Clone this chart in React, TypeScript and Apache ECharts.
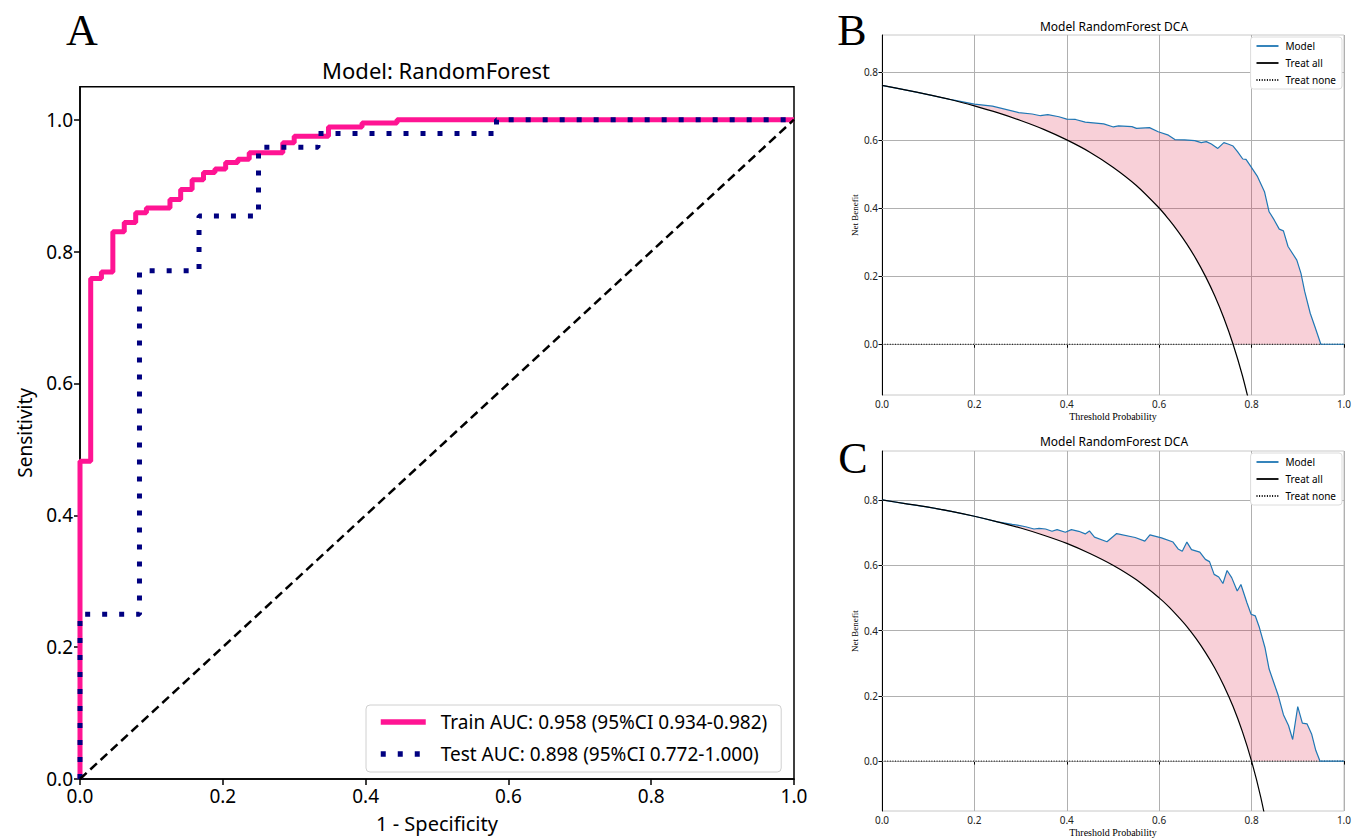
import React, { useEffect, useRef } from "react";
import * as echarts from "echarts";

// ---------- ROC data (panel A) ----------
const TRAIN_LABEL = "Train AUC: 0.958 (95%CI 0.934-0.982)";
const TEST_LABEL = "Test AUC: 0.898 (95%CI 0.772-1.000)";
const TRAIN_FPR = [0, 0, 0.015, 0.030, 0.046, 0.062, 0.078, 0.093, 0.126, 0.141, 0.157, 0.173, 0.189, 0.204, 0.221, 0.237, 0.284, 0.300, 0.348, 0.395, 0.444, 1.0];
const TRAIN_TPR = [0, 0.482, 0.759, 0.769, 0.830, 0.844, 0.859, 0.866, 0.879, 0.894, 0.909, 0.920, 0.925, 0.935, 0.940, 0.950, 0.965, 0.975, 0.989, 0.995, 1.0, 1.0];
const TEST_FPR = [0, 0, 0.0833, 0.1667, 0.25, 0.3333, 0.5833, 1.0];
const TEST_TPR = [0, 0.25, 0.771, 0.854, 0.958, 0.979, 1.0, 1.0];
const CHANCE_X = [0, 1];
const CHANCE_Y = [0, 1];
const ROC_TICKS = [0, 0.2, 0.4, 0.6, 0.8, 1.0];

// ---------- DCA data (panel B) ----------
const B_ALL_X = [0, 0.05, 0.1, 0.15, 0.2, 0.25, 0.3, 0.35, 0.4, 0.45, 0.5, 0.55, 0.6, 0.62, 0.64, 0.66, 0.68, 0.7, 0.72, 0.74, 0.76, 0.78, 0.8];
const B_ALL_Y = [0.76, 0.747, 0.733, 0.718, 0.70, 0.68, 0.657, 0.631, 0.60, 0.564, 0.52, 0.467, 0.40, 0.368, 0.333, 0.294, 0.25, 0.20, 0.143, 0.077, 0.0, -0.091, -0.20];
const B_MODEL_X = [0, 0.05, 0.1, 0.15, 0.2, 0.239, 0.296, 0.325, 0.343, 0.359, 0.383, 0.4, 0.419, 0.44, 0.48, 0.501, 0.512, 0.541, 0.551, 0.579, 0.598, 0.62, 0.634, 0.655, 0.677, 0.691, 0.702, 0.713, 0.727, 0.74, 0.749, 0.76, 0.77, 0.781, 0.788, 0.799, 0.813, 0.828, 0.838, 0.849, 0.86, 0.869, 0.879, 0.898, 0.907, 0.915, 0.927, 0.937, 0.95, 1.0];
const B_MODEL_Y = [0.76, 0.747, 0.733, 0.718, 0.705, 0.699, 0.68, 0.676, 0.671, 0.674, 0.668, 0.661, 0.66, 0.652, 0.647, 0.638, 0.641, 0.639, 0.634, 0.636, 0.624, 0.614, 0.601, 0.6, 0.598, 0.592, 0.595, 0.588, 0.575, 0.592, 0.588, 0.582, 0.565, 0.544, 0.543, 0.521, 0.492, 0.448, 0.389, 0.365, 0.338, 0.333, 0.287, 0.247, 0.208, 0.155, 0.091, 0.052, 0.0, 0.0];

// ---------- DCA data (panel C) ----------
const C_ALL_X = [0, 0.05, 0.1, 0.15, 0.2, 0.25, 0.3, 0.35, 0.4, 0.45, 0.5, 0.55, 0.6, 0.62, 0.64, 0.66, 0.68, 0.7, 0.72, 0.74, 0.76, 0.78, 0.8, 0.82, 0.84];
const C_ALL_Y = [0.8, 0.789, 0.778, 0.765, 0.75, 0.733, 0.714, 0.692, 0.667, 0.636, 0.6, 0.556, 0.5, 0.474, 0.444, 0.412, 0.375, 0.333, 0.286, 0.231, 0.167, 0.091, 0.0, -0.111, -0.25];
const C_MODEL_X = [0, 0.05, 0.1, 0.15, 0.2, 0.25, 0.282, 0.293, 0.311, 0.329, 0.34, 0.354, 0.368, 0.379, 0.397, 0.41, 0.426, 0.44, 0.449, 0.46, 0.487, 0.508, 0.548, 0.569, 0.58, 0.605, 0.63, 0.641, 0.65, 0.66, 0.67, 0.688, 0.7, 0.709, 0.719, 0.729, 0.738, 0.747, 0.757, 0.769, 0.777, 0.79, 0.799, 0.808, 0.817, 0.829, 0.838, 0.858, 0.869, 0.88, 0.889, 0.9, 0.91, 0.92, 0.93, 0.939, 0.948, 1.0];
const C_MODEL_Y = [0.8, 0.789, 0.778, 0.765, 0.75, 0.733, 0.725, 0.723, 0.718, 0.711, 0.713, 0.711, 0.704, 0.709, 0.701, 0.709, 0.704, 0.696, 0.705, 0.686, 0.672, 0.697, 0.685, 0.674, 0.693, 0.684, 0.671, 0.65, 0.643, 0.671, 0.648, 0.64, 0.618, 0.611, 0.572, 0.564, 0.544, 0.584, 0.562, 0.521, 0.541, 0.485, 0.45, 0.445, 0.409, 0.348, 0.282, 0.2, 0.142, 0.109, 0.066, 0.167, 0.116, 0.114, 0.083, 0.033, 0.0, 0.0];

const NONE_X = [0, 1];
const NONE_Y = [0, 0];
const DCA_Y_TICKS = [0, 0.2, 0.4, 0.6, 0.8];

const SANS = "'Noto Sans', 'Open Sans', sans-serif";
const SERIF = "'Liberation Serif', 'DejaVu Serif', serif";

const zip = (xs: number[], ys: number[]) => xs.map((x, i) => [x, ys[i]]);

function fillPolygon(mx: number[], my: number[], ax: number[], ay: number[]) {
  const upper = zip(mx, my);
  const lower = zip(ax, ay).filter((p) => p[1] >= 0).reverse();
  return upper.concat(lower);
}

export default function App() {
  const ref = useRef<HTMLDivElement>(null);
  useEffect(() => {
    if (!ref.current) return;
    const chart = echarts.init(ref.current, null, { renderer: "svg" });

    const polyB = fillPolygon(B_MODEL_X, B_MODEL_Y, B_ALL_X, B_ALL_Y);
    const polyC = fillPolygon(C_MODEL_X, C_MODEL_Y, C_ALL_X, C_ALL_Y);

    const dcaGridBoxes = [
      { left: 882, top: 35, width: 464.5, height: 360 },
      { left: 882, top: 451, width: 464.5, height: 361.5 },
    ];
    const dcaYRange = [
      [-0.149, 0.908],
      [-0.153, 0.95],
    ];

    const fmt1 = (v: number) => v.toFixed(1);

    const xAxes: any[] = [
      {
        gridIndex: 0, type: "value", min: 0, max: 1, interval: 0.2,
        axisLine: { show: true, lineStyle: { color: "#000", width: 1.5 } },
        axisTick: { show: true, inside: false, length: 6, lineStyle: { color: "#000", width: 1.5 } },
        axisLabel: { formatter: fmt1, color: "#000", fontSize: 19, fontFamily: SANS, margin: 7 },
        splitLine: { show: false },
        name: "1 - Specificity", nameLocation: "middle", nameGap: 34,
        nameTextStyle: { color: "#000", fontSize: 20, fontFamily: SANS },
      },
    ];
    const yAxes: any[] = [
      {
        gridIndex: 0, type: "value", min: 0, max: 1.05,
        axisLine: { show: true, lineStyle: { color: "#000", width: 1.5 } },
        axisTick: { show: true, inside: false, length: 6, customValues: ROC_TICKS, lineStyle: { color: "#000", width: 1.5 } },
        axisLabel: { formatter: fmt1, color: "#000", fontSize: 19, fontFamily: SANS, margin: 7, customValues: ROC_TICKS },
        splitLine: { show: false },
        name: "Sensitivity", nameLocation: "middle", nameGap: 46,
        nameTextStyle: { color: "#000", fontSize: 19, fontFamily: SANS },
      },
    ];
    [1, 2].forEach((gi) => {
      xAxes.push({
        gridIndex: gi, type: "value", min: 0, max: 1, interval: 0.2,
        axisLine: { show: true, lineStyle: { color: "#000", width: 1 } },
        axisTick: { show: true, inside: false, length: 3.5, lineStyle: { color: "#000", width: 1 } },
        axisLabel: { formatter: fmt1, color: "#222", fontSize: 10, fontFamily: SANS, margin: 4 },
        splitLine: { show: true, lineStyle: { color: "#b0b0b0", width: 1 } },
        name: "Threshold Probability", nameLocation: "middle", nameGap: 16,
        nameTextStyle: { color: "#000", fontSize: 10, fontFamily: SERIF },
      });
      const r = dcaYRange[gi - 1];
      yAxes.push({
        gridIndex: gi, type: "value", min: r[0], max: r[1],
        axisLine: { show: true, lineStyle: { color: "#000", width: 1 } },
        axisTick: { show: true, inside: false, length: 3.5, customValues: DCA_Y_TICKS, lineStyle: { color: "#000", width: 1 } },
        axisLabel: { formatter: fmt1, color: "#222", fontSize: 10, fontFamily: SANS, margin: 4, customValues: DCA_Y_TICKS },
        splitLine: { show: false },
        name: "Net Benefit", nameLocation: "middle", nameGap: 22,
        nameTextStyle: { color: "#000", fontSize: 9, fontFamily: SERIF },
      });
    });

    const dcaSeries = (gi: number, mx: number[], my: number[], ax: number[], ay: number[], poly: number[][]) => [
      {
        type: "custom", xAxisIndex: gi, yAxisIndex: gi, silent: true, z: 1,
        data: [[0, 0]],
        renderItem: (_p: any, api: any) => ({
          type: "polygon",
          shape: { points: poly.map((pt) => api.coord(pt)) },
          style: { fill: "rgba(220,20,60,0.2)", stroke: "none" },
        }),
      },
      {
        type: "line", name: "Treat none", xAxisIndex: gi, yAxisIndex: gi, z: 2,
        data: zip(NONE_X, NONE_Y), symbol: "none",
        lineStyle: { color: "#000", width: 1, type: [1, 1.6] },
        itemStyle: { color: "#000" },
        markLine: {
          silent: true, symbol: "none", label: { show: false },
          lineStyle: { color: "#b0b0b0", width: 1, type: "solid" },
          data: DCA_Y_TICKS.map((v) => ({ yAxis: v })),
          z: 1,
        },
      },
      {
        type: "line", name: "Model", xAxisIndex: gi, yAxisIndex: gi, z: 3,
        data: zip(mx, my), symbol: "none",
        lineStyle: { color: "#1f77b4", width: 1.2 },
        itemStyle: { color: "#1f77b4" },
      },
      {
        type: "line", name: "Treat all", xAxisIndex: gi, yAxisIndex: gi, z: 4,
        data: zip(ax, ay), symbol: "none", smooth: 0.3,
        lineStyle: { color: "#000", width: 1.2 },
        itemStyle: { color: "#000" },
      },
    ];

    const option: any = {
      animation: false,
      backgroundColor: "#fff",
      grid: [
        { left: 80, top: 86.7, width: 714, height: 695.3, show: true, borderColor: "#000", borderWidth: 1.5, backgroundColor: "transparent" },
        { ...dcaGridBoxes[0], show: true, borderColor: "#c8c8c8", borderWidth: 1 },
        { ...dcaGridBoxes[1], show: true, borderColor: "#c8c8c8", borderWidth: 1 },
      ],
      xAxis: xAxes,
      yAxis: yAxes,
      legend: [
        {
          data: [TRAIN_LABEL, TEST_LABEL], orient: "vertical", left: 366, top: 705,
          itemWidth: 45, itemHeight: 14, itemGap: 12,
          padding: [7, 14, 8, 12],
          borderColor: "#d0d0d0", borderWidth: 1, borderRadius: 4, backgroundColor: "#fff",
          itemStyle: { opacity: 0 },
          lineStyle: { width: 5.5, cap: "butt" },
          textStyle: { color: "#000", fontSize: 19, lineHeight: 20, fontFamily: SANS, padding: [0, 0, 0, 10] },
          selectedMode: false,
        },
        ...[0, 1].map((k) => ({
          data: ["Model", "Treat all", "Treat none"], orient: "vertical",
          right: 1354 - 1342, top: dcaGridBoxes[k].top + 2,
          itemWidth: 22, itemHeight: 8, itemGap: 7,
          padding: [4, 6, 4, 5],
          borderColor: "#dcdcdc", borderWidth: 1, borderRadius: 3, backgroundColor: "#fff",
          itemStyle: { opacity: 0 },
          lineStyle: { width: 1.8 },
          textStyle: { color: "#000", fontSize: 10, fontFamily: SANS, padding: [0, 0, 0, 2] },
          selectedMode: false,
        })),
      ],
      graphic: [
        { type: "text", x: 436, y: 70, style: { text: "Model: RandomForest", fontSize: 22, fontFamily: SANS, fill: "#000", align: "center", verticalAlign: "middle" } },
        { type: "text", x: 1114, y: 26, style: { text: "Model RandomForest DCA", fontSize: 12, fontFamily: SANS, fill: "#000", align: "center", verticalAlign: "middle" } },
        { type: "text", x: 1114, y: 441, style: { text: "Model RandomForest DCA", fontSize: 12, fontFamily: SANS, fill: "#000", align: "center", verticalAlign: "middle" } },
        { type: "text", x: 82, y: 30, style: { text: "A", fontSize: 44, fontFamily: SERIF, fill: "#000", align: "center", verticalAlign: "middle" } },
        { type: "text", x: 852, y: 30, style: { text: "B", fontSize: 44, fontFamily: SERIF, fill: "#000", align: "center", verticalAlign: "middle" } },
        { type: "text", x: 853, y: 458, style: { text: "C", fontSize: 44, fontFamily: SERIF, fill: "#000", align: "center", verticalAlign: "middle" } },
      ],
      series: [
        {
          type: "line", name: TRAIN_LABEL, xAxisIndex: 0, yAxisIndex: 0, z: 3,
          data: zip(TRAIN_FPR, TRAIN_TPR), step: "end", symbol: "none",
          lineStyle: { color: "#ff1493", width: 5 }, itemStyle: { color: "#ff1493" },
        },
        {
          type: "line", name: TEST_LABEL, xAxisIndex: 0, yAxisIndex: 0, z: 4,
          data: zip(TEST_FPR, TEST_TPR), step: "end", symbol: "none",
          lineStyle: { color: "#000080", width: 5, type: [5, 12], cap: "butt" }, itemStyle: { color: "#000080" },
        },
        {
          type: "line", name: "chance", xAxisIndex: 0, yAxisIndex: 0, z: 5,
          data: zip(CHANCE_X, CHANCE_Y), symbol: "none",
          lineStyle: { color: "#000", width: 2.5, type: [9, 5] },
        },
        ...dcaSeries(1, B_MODEL_X, B_MODEL_Y, B_ALL_X, B_ALL_Y, polyB),
        ...dcaSeries(2, C_MODEL_X, C_MODEL_Y, C_ALL_X, C_ALL_Y, polyC),
      ],
    };
    chart.setOption(option);
    return () => chart.dispose();
  }, []);

  return (
    <div
      ref={ref}
      style={{ position: "fixed", left: 0, top: 0, width: 1354, height: 838, background: "#fff" }}
    />
  );
}
